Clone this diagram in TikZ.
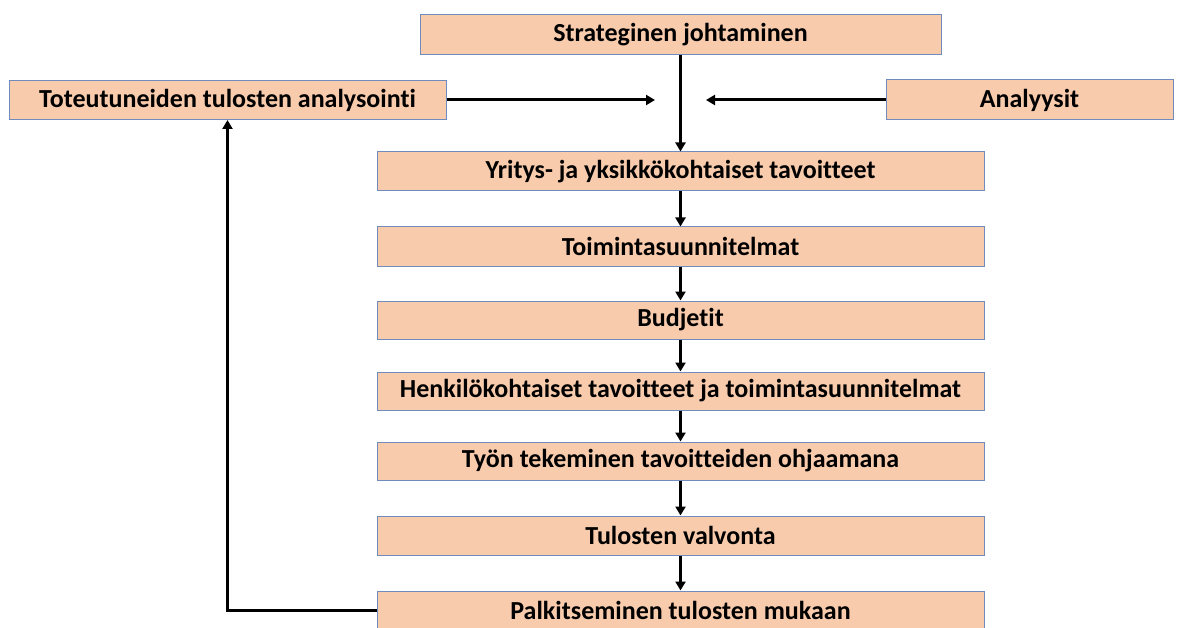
\documentclass[tikz,border=0pt]{standalone}
\usepackage{fontspec}
\setmainfont{Carlito}[Ligatures={NoCommon}]
\usetikzlibrary{arrows.meta}
\definecolor{boxfill}{HTML}{F8CBAD}
\definecolor{boxline}{HTML}{6F8CBD}
\begin{document}
\begin{tikzpicture}[x=1pt,y=-1pt,
  stepbox/.style={draw=boxline,line width=1pt,fill=boxfill,
    inner sep=0pt,font=\fontsize{26}{30}\selectfont\bfseries},
  flow/.style={line width=3pt,-{Triangle[length=9pt,width=10pt]}},
  link/.style={line width=3pt}]
\useasboundingbox (0,0) rectangle (1177,628);
\clip (0,0) rectangle (1177,628);
% top and side boxes
\node[stepbox,minimum width=521pt,minimum height=40pt] (strat) at (680.5,34.5) {Strateginen johtaminen};
\node[stepbox,minimum width=437pt,minimum height=39pt] (tot) at (227.5,100) {Toteutuneiden tulosten analysointi};
\node[stepbox,minimum width=287pt,minimum height=40pt] (ana) at (1029.5,100) {Analyysit};
% main column
\node[stepbox,minimum width=607pt,minimum height=39pt] (yri) at (680.5,171.5) {Yritys- ja yksikkökohtaiset tavoitteet};
\node[stepbox,minimum width=607pt,minimum height=39pt] (toi) at (680.5,246.5) {Toimintasuunnitelmat};
\node[stepbox,minimum width=607pt,minimum height=38pt] (bud) at (680.5,320) {Budjetit};
\node[stepbox,minimum width=607pt,minimum height=38pt] (hen) at (680.5,391) {Henkilökohtaiset tavoitteet ja toimintasuunnitelmat};
\node[stepbox,minimum width=607pt,minimum height=38pt] (tyo) at (680.5,461) {Työn tekeminen tavoitteiden ohjaamana};
\node[stepbox,minimum width=607pt,minimum height=39pt] (val) at (680.5,535.5) {Tulosten valvonta};
\node[stepbox,minimum width=607pt,minimum height=38pt] (pal) at (680.5,610) {Palkitseminen tulosten mukaan};
% arrow tips beside the trunk
\coordinate (ltip) at (655,100);
\coordinate (rtip) at (706,100);
% connectors
\draw[flow] (strat.south) -- (yri.north);
\draw[flow] (tot.east) -- (ltip);
\draw[flow] (ana.west) -- (rtip);
\draw[flow] (yri.south) -- (toi.north);
\draw[flow] (toi.south) -- (bud.north);
\draw[flow] (bud.south) -- (hen.north);
\draw[flow] (hen.south) -- (tyo.north);
\draw[flow] (tyo.south) -- (val.north);
\draw[flow] (val.south) -- (pal.north);
\draw[flow] (pal.west) -| (tot.south);
\end{tikzpicture}
\end{document}
